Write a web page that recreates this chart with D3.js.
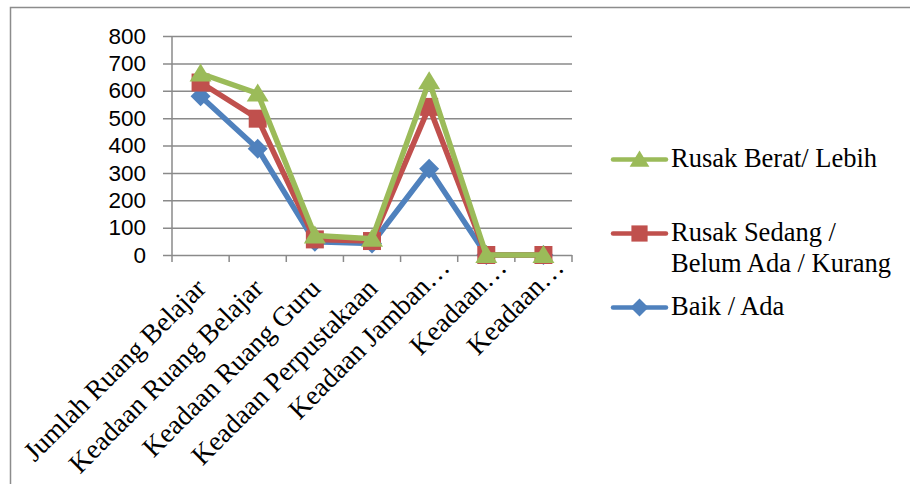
<!DOCTYPE html>
<html>
<head>
<meta charset="utf-8">
<script src="https://cdn.jsdelivr.net/npm/d3@7"></script>
<style>
  html, body { margin: 0; padding: 0; background: #fff; }
  svg { display: block; }
</style>
</head>
<body>
<svg id="chart" width="910" height="484"></svg>
<script>
// Facility categories (x axis) and the three condition series
const categories = [
  "Jumlah Ruang Belajar",
  "Keadaan Ruang Belajar",
  "Keadaan Ruang Guru",
  "Keadaan Perpustakaan",
  "Keadaan Jamban…",
  "Keadaan…",
  "Keadaan…"
];
const baikAda = [580, 388, 48, 42, 315, 0, 0];
const rusakSedang = [630, 498, 57, 51, 541, 0, 0];
const rusakBerat = [663, 590, 71, 59, 635, 0, 0];
const yTicks = [0, 100, 200, 300, 400, 500, 600, 700, 800];

const seriesNames = ["Baik / Ada", ["Rusak Sedang /", "Belum Ada / Kurang"], "Rusak Berat/ Lebih"];
const seriesColors = ["#4F81BD", "#C0504D", "#9BBB59"];
const seriesShapes = ["diamond", "square", "triangle"];
const seriesValues = [baikAda, rusakSedang, rusakBerat];

const svg = d3.select("#chart");
const gridColor = "#8a8a8a";
const serif = "'Liberation Serif', 'Times New Roman', serif";

// outer frame
svg.append("path")
  .attr("d", "M10.5,484 L10.5,7.5 L910,7.5")
  .attr("fill", "none")
  .attr("stroke", "#8c8c8c")
  .attr("stroke-width", 1.5);

// band scale over category positions (some labels repeat)
const idx = d3.range(categories.length);
const x = d3.scaleBand().domain(idx).range([172, 572]);
const cx = i => x(i) + x.bandwidth() / 2;
const y = d3.scaleLinear().domain([0, 800]).range([255, 36]);

// horizontal gridlines with outside ticks on the left
const yAxis = d3.axisLeft(y).tickValues(yTicks).tickSizeOuter(0).tickFormat(d3.format("d"));
const gy = svg.append("g").attr("transform", "translate(163,0)").call(yAxis);
gy.select(".domain").remove();
gy.selectAll(".tick line")
  .attr("stroke", gridColor).attr("stroke-width", 1.5)
  .attr("x1", 0).attr("x2", 572 - 163);
gy.selectAll(".tick text")
  .attr("x", -17)
  .attr("fill", "#000")
  .style("font-family", "'Liberation Sans', Arial, sans-serif")
  .style("font-size", "22.5px");

// vertical axis line
svg.append("line")
  .attr("x1", 172).attr("x2", 172).attr("y1", y(800)).attr("y2", y(0) + 7)
  .attr("stroke", gridColor).attr("stroke-width", 1.5);

// category boundary ticks below the baseline
svg.append("g").selectAll("line").data(idx).join("line")
  .attr("x1", i => x(i) + x.bandwidth()).attr("x2", i => x(i) + x.bandwidth())
  .attr("y1", y(0)).attr("y2", y(0) + 7)
  .attr("stroke", gridColor).attr("stroke-width", 1.5);

// rotated category labels; truncated ones sit a little further along
svg.append("g").selectAll("text").data(idx).join("text")
  .attr("transform", i => {
    const cut = categories[i].endsWith("…");
    return `translate(${cx(i) + (cut ? 22 : 7)},${cut ? 269 : 290}) rotate(-45)`;
  })
  .attr("text-anchor", "end")
  .style("font-family", serif)
  .style("font-size", "27.5px")
  .attr("fill", "#000")
  .text(i => categories[i]);

// marker path generator
function markerPath(shape, s) {
  if (shape === "diamond") return `M0,${-s}L${s},0L0,${s}L${-s},0Z`;
  if (shape === "square") return `M${-s * 0.9},${-s * 0.9}H${s * 0.9}V${s * 0.9}H${-s * 0.9}Z`;
  return `M0,${-s}L${s * 1.1},${s * 0.8}L${-s * 1.1},${s * 0.8}Z`;
}

const line = d3.line()
  .x((d, i) => cx(i))
  .y(d => y(d));

seriesValues.forEach((vals, k) => {
  const g = svg.append("g");
  g.append("path")
    .datum(vals)
    .attr("d", line)
    .attr("fill", "none")
    .attr("stroke", seriesColors[k])
    .attr("stroke-width", 5.5)
    .attr("stroke-linejoin", "round");
  g.selectAll("path.m").data(vals).join("path")
    .attr("class", "m")
    .attr("transform", (d, i) => `translate(${cx(i)},${y(d)})`)
    .attr("d", markerPath(seriesShapes[k], 10))
    .attr("fill", seriesColors[k]);
});

// legend
const legendRows = [
  { k: 2, ly: 159.5, lines: [166.5] },
  { k: 1, ly: 233.5, lines: [241, 272] },
  { k: 0, ly: 307.5, lines: [315] }
];
legendRows.forEach(r => {
  const g = svg.append("g");
  g.append("line")
    .attr("x1", 613).attr("x2", 666).attr("y1", r.ly).attr("y2", r.ly)
    .attr("stroke", seriesColors[r.k]).attr("stroke-width", 4.5).attr("stroke-linecap", "round");
  g.append("path")
    .attr("transform", `translate(639.5,${r.ly})`)
    .attr("d", markerPath(seriesShapes[r.k], 9))
    .attr("fill", seriesColors[r.k]);
  const name = seriesNames[r.k];
  const texts = Array.isArray(name) ? name : [name];
  texts.forEach((t, i) => {
    g.append("text")
      .attr("x", 671).attr("y", r.lines[i])
      .style("font-family", serif)
      .style("font-size", "26.5px")
      .attr("fill", "#000")
      .text(t);
  });
});
</script>
</body>
</html>
